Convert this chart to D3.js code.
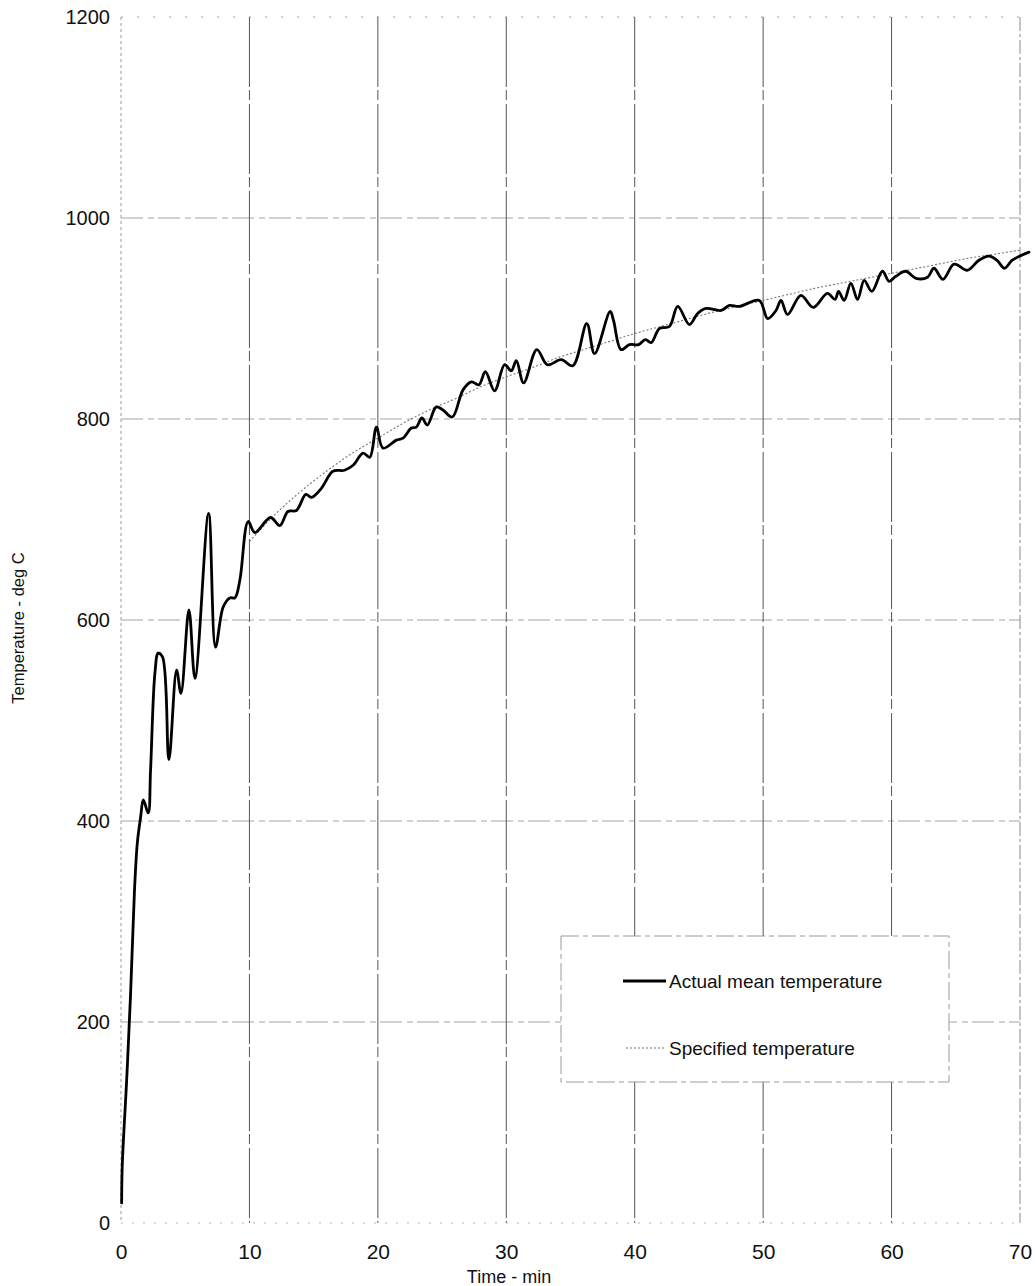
<!DOCTYPE html>
<html>
<head>
<meta charset="utf-8">
<script src="https://cdn.jsdelivr.net/npm/d3@7"></script>
<style>
  html, body { margin: 0; padding: 0; background: #fff; }
  svg { display: block; font-family: "Liberation Sans", Arial, sans-serif; }
</style>
</head>
<body>
<svg id="chart" width="1036" height="1286"></svg>
<script>
// ---------- data ----------
const xTicks = [0, 10, 20, 30, 40, 50, 60, 70];
const yTicks = [0, 200, 400, 600, 800, 1000, 1200];

const actualTime = [0.05,0.1,0.44,0.75,1.04,1.27,1.53,1.74,2.12,2.3,2.64,2.9,3.24,3.73,4.33,4.67,5.29,5.76,6.82,7.36,7.96,8.48,8.87,9.26,9.9,10.42,11.64,12.37,13.0,13.66,14.39,14.83,15.6,16.5,17.4,18.07,18.85,19.37,19.89,20.4,21.44,21.96,22.61,23.0,23.43,23.85,24.55,25.07,25.8,26.63,27.28,27.87,28.37,29.09,29.87,30.39,30.78,31.35,32.38,33.2,34.28,35.18,36.27,36.87,38.09,38.35,38.94,39.59,40.3,40.83,41.28,41.92,42.7,43.35,44.26,44.9,45.55,46.72,47.37,48.14,49.7,50.35,51.0,51.39,51.9,52.94,53.9,55.0,55.6,55.87,56.31,56.83,57.35,57.87,58.46,59.29,59.81,60.33,61.1,61.9,62.8,63.3,64.0,64.87,65.9,66.8,67.6,68.2,68.8,69.4,70.7];
const actualTemp = [20,58,142,229,328,378,404,421,408,450,547,567,563,461,550,527,610,542,706,573,613,622,622,640,698,687,702,694,708,709,725,722,731,748,749,754,766,762,792,771,779,781,791,792,801,794,812,809,802,829,837,834,847,828,854,848,858,836,869,854,859,853,895,865,907,898,869,874,874,879,876,890,892,912,894,905,910,908,913,912,918,900,908,918,904,923,911,925,919,927,918,935,919,938,927,947,937,942,947,940,941,950,939,954,948,958,962,958,950,958,966];

const specTime = [10,12,14,16,18,20,22,24,26,28,30,32,34,36,38,40,42,44,46,48,50,52,54,56,58,60,62,64,66,68,70];
const specTemp = [678,705,728,748,766,781,796,809,820,832,842,851,861,869,877,885,892,899,906,912,918,924,930,935,940,945,950,955,960,964,968];

const legendLabels = ["Actual mean temperature", "Specified temperature"];

// ---------- chart ----------
const svg = d3.select("#chart");
const x = d3.scaleLinear().domain([0, 70]).range([121, 1020]);
const y = d3.scaleLinear().domain([0, 1200]).range([1223, 17]);

// gridlines
const grid = svg.append("g");
grid.selectAll("line.h").data(yTicks.filter(d => d > 0)).join("line")
  .attr("x1", x(0)).attr("x2", x(70))
  .attr("y1", d => y(d)).attr("y2", d => y(d))
  .attr("stroke", "#a5a5a5").attr("stroke-width", 1)
  .attr("stroke-dasharray", d => d === 1200 ? "2 14" : "22 5 6 4");
grid.selectAll("line.v").data(xTicks.filter(d => d > 0)).join("line")
  .attr("x1", d => x(d)).attr("x2", d => x(d))
  .attr("y1", y(1200)).attr("y2", y(0))
  .attr("stroke", d => d === 70 ? "#8a8a8a" : "#555")
  .attr("stroke-width", 1)
  .attr("stroke-dasharray", d => d === 70 ? "14 3 3 3" : "70 3 10 4");

// axis lines (faint, dotted like the scan)
svg.append("line").attr("x1", x(0)).attr("x2", x(0)).attr("y1", y(1200)).attr("y2", y(0))
  .attr("stroke", "#9a9a9a").attr("stroke-dasharray", "3 3");
svg.append("line").attr("x1", x(0)).attr("x2", x(70)).attr("y1", y(0)).attr("y2", y(0))
  .attr("stroke", "#b5b5b5").attr("stroke-dasharray", "2 9");

// y axis labels
const yAxis = d3.axisLeft(y).tickValues(yTicks).tickFormat(d3.format("d")).tickSize(0).tickPadding(0);
const gy = svg.append("g").attr("transform", "translate(110,0)").call(yAxis);
gy.select(".domain").remove();
gy.selectAll("text").attr("font-size", 20).attr("fill", "#111")
  .attr("font-family", "Liberation Sans, Arial, sans-serif");

// x axis labels
const xAxis = d3.axisBottom(x).tickValues(xTicks).tickFormat(d3.format("d")).tickSize(0).tickPadding(0);
const gx = svg.append("g").attr("transform", "translate(0,1244)").call(xAxis);
gx.select(".domain").remove();
gx.selectAll("text").attr("font-size", 21).attr("fill", "#111")
  .attr("font-family", "Liberation Sans, Arial, sans-serif");

// axis titles
svg.append("text").attr("x", 509).attr("y", 1283).attr("text-anchor", "middle")
  .attr("font-size", 18).attr("fill", "#111").text("Time - min");
svg.append("text").attr("transform", "translate(24,628) rotate(-90)")
  .attr("text-anchor", "middle").attr("font-size", 16.5).attr("fill", "#111")
  .text("Temperature - deg C");

// series
const specData = specTime.map((t, i) => [t, specTemp[i]]);
const actData = actualTime.map((t, i) => [t, actualTemp[i]]);

svg.append("path").datum(specData)
  .attr("d", d3.line().x(d => x(d[0])).y(d => y(d[1])).curve(d3.curveMonotoneX))
  .attr("fill", "none").attr("stroke", "#777").attr("stroke-width", 1.1)
  .attr("stroke-dasharray", "2 2");

svg.append("path").datum(actData)
  .attr("d", d3.line().x(d => x(d[0])).y(d => y(d[1])).curve(d3.curveCatmullRom.alpha(0.5)))
  .attr("fill", "none").attr("stroke", "#000").attr("stroke-width", 2.8)
  .attr("stroke-linejoin", "round").attr("stroke-linecap", "round");

// legend
const lg = svg.append("g");
lg.append("rect").attr("x", 561).attr("y", 936).attr("width", 388).attr("height", 146)
  .attr("fill", "#fff").attr("stroke", "#9a9a9a").attr("stroke-width", 1)
  .attr("stroke-dasharray", "18 4 5 4");
lg.append("line").attr("x1", 623).attr("x2", 666).attr("y1", 981).attr("y2", 981)
  .attr("stroke", "#000").attr("stroke-width", 2.8);
lg.append("line").attr("x1", 626).attr("x2", 666).attr("y1", 1048).attr("y2", 1048)
  .attr("stroke", "#777").attr("stroke-width", 1.1).attr("stroke-dasharray", "2 2");
lg.selectAll("text").data(legendLabels).join("text")
  .attr("x", 669).attr("y", (d, i) => i === 0 ? 981 : 1048)
  .attr("dominant-baseline", "central")
  .attr("font-size", 19).attr("fill", "#111").text(d => d);
</script>
</body>
</html>
